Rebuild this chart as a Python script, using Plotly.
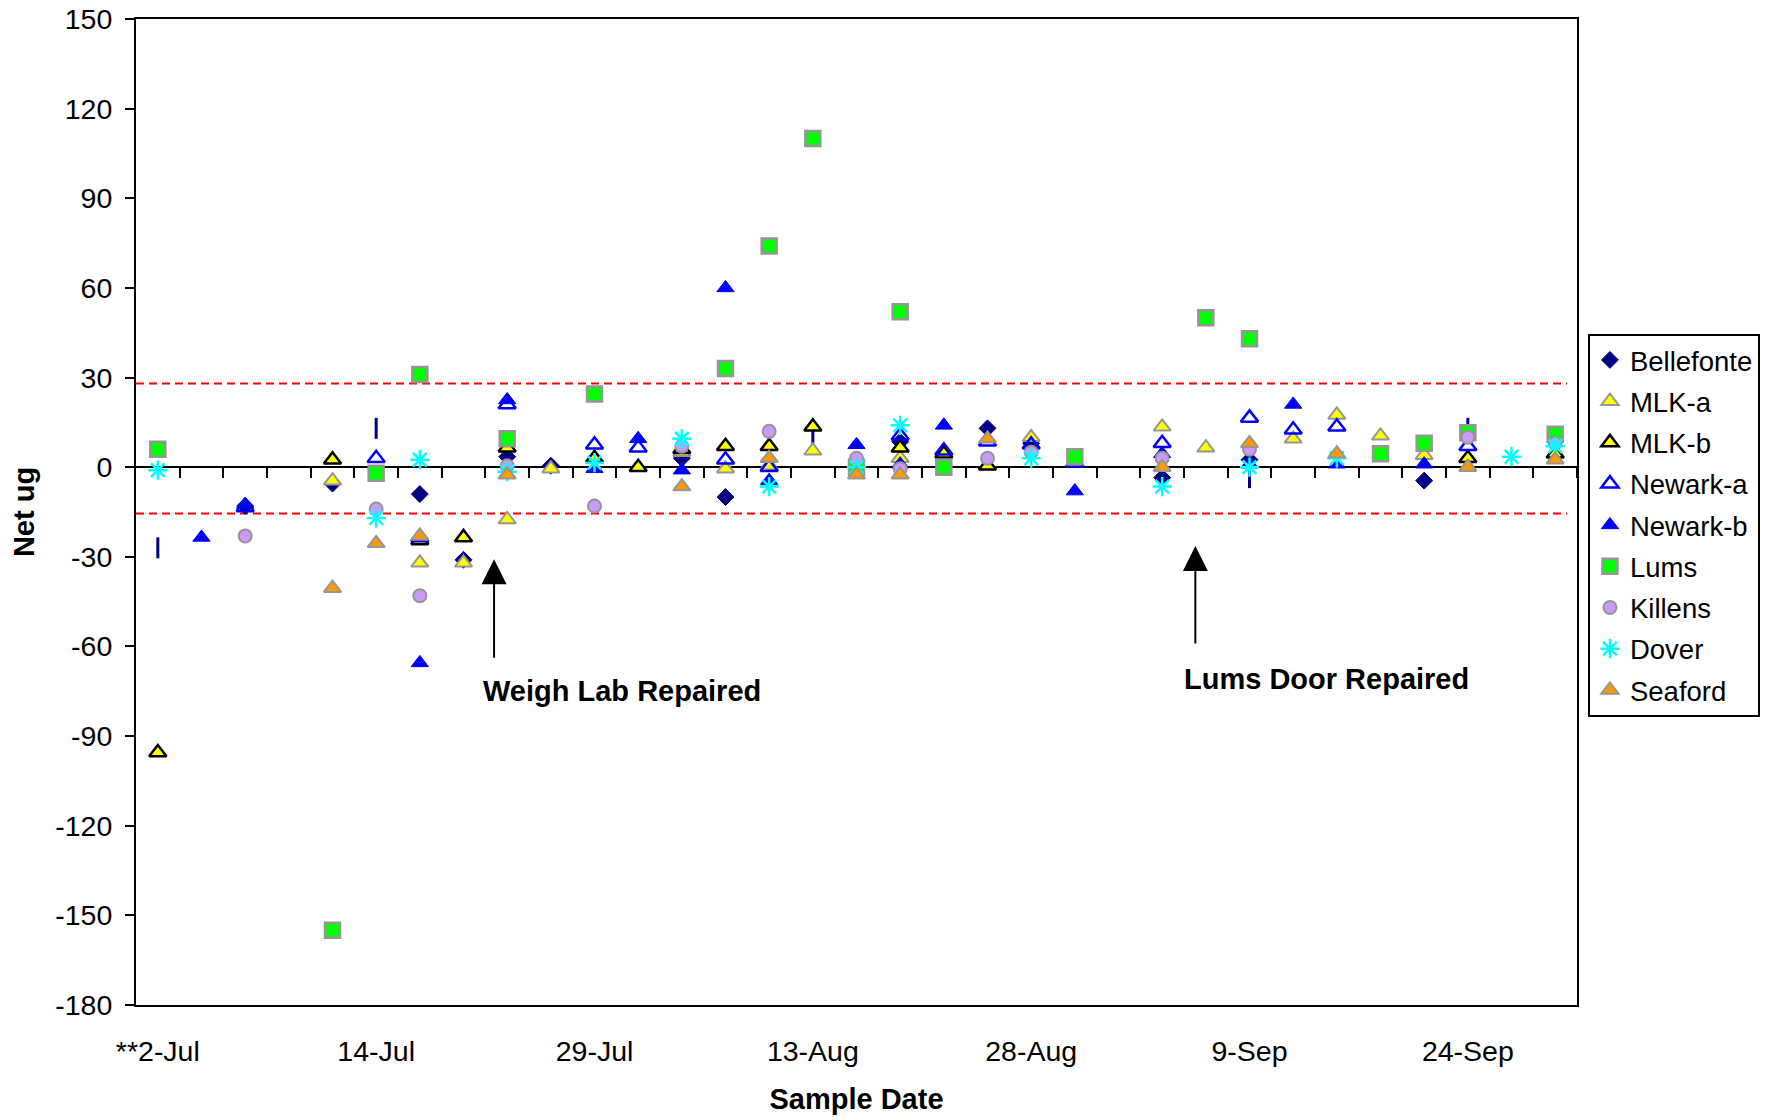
import plotly.graph_objects as go

N = None
CATEGORY_INDEX = list(range(33))
TICK_POSITIONS = [0, 5, 10, 15, 20, 25, 30]
TICK_LABELS = ["**2-Jul", "14-Jul", "29-Jul", "13-Aug", "28-Aug", "9-Sep", "24-Sep"]
Y_TICKS = [-180, -150, -120, -90, -60, -30, 0, 30, 60, 90, 120, 150]
Y_TICK_LABELS = ["-180", "-150", "-120", "-90", "-60", "-30", "0", "30", "60", "90", "120", "150"]

UPPER_LIMIT = 28
LOWER_LIMIT = -15.5

BELLEFONTE = [N, N, -13, N, -5.5, N, -9, -31, 3.5, 0.5, N, N, 3, -10, N, N, N, 8.5, N, 13, 8, N, N, -3.5, N, 2.5, N, N, N, -4.5, N, N, N]
MLK_A = [N, N, N, N, -4.5, N, -32, -32, -17.5, -0.5, N, N, 5, -0.5, 0.5, 5.5, N, 3, N, N, 10, N, N, 13.5, 6.5, N, 9.5, 17.5, 10.5, 4, N, N, N]
MLK_B = [-95.5, N, N, N, 2.5, N, -24.5, -23.5, 6.5, N, 3, 0, 6, 7, 7, 13.5, N, 6.5, 4.5, 0.5, N, N, N, N, N, N, N, N, N, N, 3, N, 4.5]
NEWARK_A = [N, N, -13.5, N, N, 3, -23.5, N, 21, N, 7.5, 6.5, N, 2.5, 0, N, N, 10.5, 5.5, 8.5, 7.5, 1.5, N, 8, N, 16.5, 12.5, 13.5, N, N, 7, N, N]
NEWARK_B = [N, -23.5, -12.5, N, N, N, -65.5, N, 22.5, N, -0.5, 9.5, -1, 60, -4.5, N, 7.5, 1, 14, N, N, -8, N, 4.5, N, 1, 21, 1, N, 1, N, N, N]
LUMS = [6, N, N, N, -155, -2, 31, N, 9.5, N, 24.5, N, N, 33, 74, 110, 0, 52, 0, N, N, 3.5, N, N, 50, 43, N, N, 4.5, 8, 11.5, N, 11]
KILLENS = [N, N, -23, N, N, -14, -43, N, 0.5, N, -13, N, 7, N, 12, N, 3, -0.5, N, 3, 5, N, N, 3, N, 6, N, N, N, N, 10, N, 8]
DOVER = [-1, N, N, N, N, -17, 2.5, N, -1.5, N, 1.5, N, 9.5, N, -6.5, N, 0, 14, N, N, 3, N, N, -6.5, N, 0, N, 3, N, N, N, 3.5, 7]
SEAFORD = [N, N, N, N, -40.5, -25.5, -23, N, -2.5, N, N, N, -6.5, N, 3, N, -2.5, -2.5, N, 9.5, N, N, N, 0, N, 8, N, 4.5, N, N, 0, N, 2.5]
UNLABELED = [-27, N, N, N, N, 13, N, N, N, N, N, N, N, N, N, 9, N, N, N, N, N, N, N, N, N, -3.5, N, N, N, N, 13, N, N]

GRAY = "#969696"
FONT = "Arial, Liberation Sans, sans-serif"
FS = 28.5
FSL = 27.5
FSB = 29

fig = go.Figure()

fig.add_trace(go.Scatter(
    x=CATEGORY_INDEX, y=UNLABELED, mode="markers", name="", showlegend=False,
    marker=dict(symbol="line-ns-open", size=15, color="#000080", line=dict(width=3, color="#000080")),
))

series = [
    ("Bellefonte", BELLEFONTE, dict(symbol="diamond", size=13, color="#000080", line=dict(width=1, color="#000080"))),
    ("MLK-a", MLK_A, dict(symbol="triangle-up", size=15, color="#FFFF00", line=dict(width=2, color=GRAY))),
    ("MLK-b", MLK_B, dict(symbol="triangle-up", size=15, color="#FFFF00", line=dict(width=2.5, color="#000000"))),
    ("Newark-a", NEWARK_A, dict(symbol="triangle-up-open", size=15, color="#0000FF", line=dict(width=2.5, color="#0000FF"))),
    ("Newark-b", NEWARK_B, dict(symbol="triangle-up", size=15, color="#0000FF", line=dict(width=1, color="#0000FF"))),
    ("Lums", LUMS, dict(symbol="square", size=15, color="#00FF00", line=dict(width=2.5, color=GRAY))),
    ("Killens", KILLENS, dict(symbol="circle", size=13, color="#CC99FF", line=dict(width=2, color=GRAY))),
    ("Dover", DOVER, dict(symbol="asterisk-open", size=16, color="#00FFFF", line=dict(width=2.5, color="#00FFFF"))),
    ("Seaford", SEAFORD, dict(symbol="triangle-up", size=15, color="#FF9900", line=dict(width=2, color=GRAY))),
]
for name, vals, mk in series:
    fig.add_trace(go.Scatter(x=CATEGORY_INDEX, y=vals, mode="markers", name=name,
                             legendgroup=name, marker=mk))

for lim in (UPPER_LIMIT, LOWER_LIMIT):
    fig.add_shape(type="line", xref="paper", x0=0, x1=0.993, yref="y", y0=lim, y1=lim,
                  line=dict(color="#FF0000", width=2, dash="8px,5px"), layer="below")

boundaries = [i + 0.5 for i in CATEGORY_INDEX]

fig.update_layout(
    width=1769, height=1120,
    margin=dict(l=136, r=192, t=19, b=115, autoexpand=False),
    paper_bgcolor="white", plot_bgcolor="white",
    font=dict(family=FONT, size=FS, color="black"),
    showlegend=True,
    legend=dict(x=1.0076, y=0.681, xanchor="left", yanchor="top",
                bordercolor="black", borderwidth=2, bgcolor="white",
                font=dict(size=FSL), tracegroupgap=2.5, itemsizing="trace"),
    xaxis=dict(range=[-0.5, 32.5], tickmode="array", tickvals=TICK_POSITIONS, ticktext=TICK_LABELS,
               ticks="", showgrid=False, zeroline=False, showline=True, mirror=True,
               linecolor="black", linewidth=2, ticklabelstandoff=20, automargin=False,
               title=dict(text="<b>Sample Date</b>", font=dict(size=FSB), standoff=22)),
    xaxis2=dict(range=[-0.5, 32.5], overlaying="x", anchor="free", position=180 / 330,
                tickmode="array", tickvals=boundaries, showticklabels=False,
                ticks="outside", ticklen=10, tickwidth=2, tickcolor="black", automargin=False,
                showgrid=False, zeroline=False, showline=False),
    yaxis=dict(range=[-180, 150], tickmode="array", tickvals=Y_TICKS, ticktext=Y_TICK_LABELS,
               ticks="outside", ticklen=9, tickwidth=2, tickcolor="black",
               showgrid=False, zeroline=True, zerolinecolor="black", zerolinewidth=2,
               showline=True, mirror=True, linecolor="black", linewidth=2,
               ticklabelstandoff=7, automargin=False,
               title=dict(text="<b>Net ug</b>", font=dict(size=FSB), standoff=12)),
)

fig.add_trace(go.Scatter(x=[None], y=[None], xaxis="x2", yaxis="y", showlegend=False, hoverinfo="skip"))

fig.add_annotation(x=7.70, y=-30.8, xref="x", yref="y", ax=0, ay=100, text="",
                   showarrow=True, arrowhead=2, arrowsize=2.5, arrowwidth=2, arrowcolor="black")
fig.add_annotation(x=23.76, y=-26.4, xref="x", yref="y", ax=0, ay=99, text="",
                   showarrow=True, arrowhead=2, arrowsize=2.5, arrowwidth=2, arrowcolor="black")
fig.add_annotation(x=10.62, y=-75, xref="x", yref="y", text="<b>Weigh Lab Repaired</b>",
                   showarrow=False, font=dict(size=FSB))
fig.add_annotation(x=26.76, y=-71, xref="x", yref="y", text="<b>Lums Door Repaired</b>",
                   showarrow=False, font=dict(size=FSB))

fig.write_html("out.html", config={"displayModeBar": False},
               post_script="document.body.style.margin='0';document.body.style.overflow='hidden';")
